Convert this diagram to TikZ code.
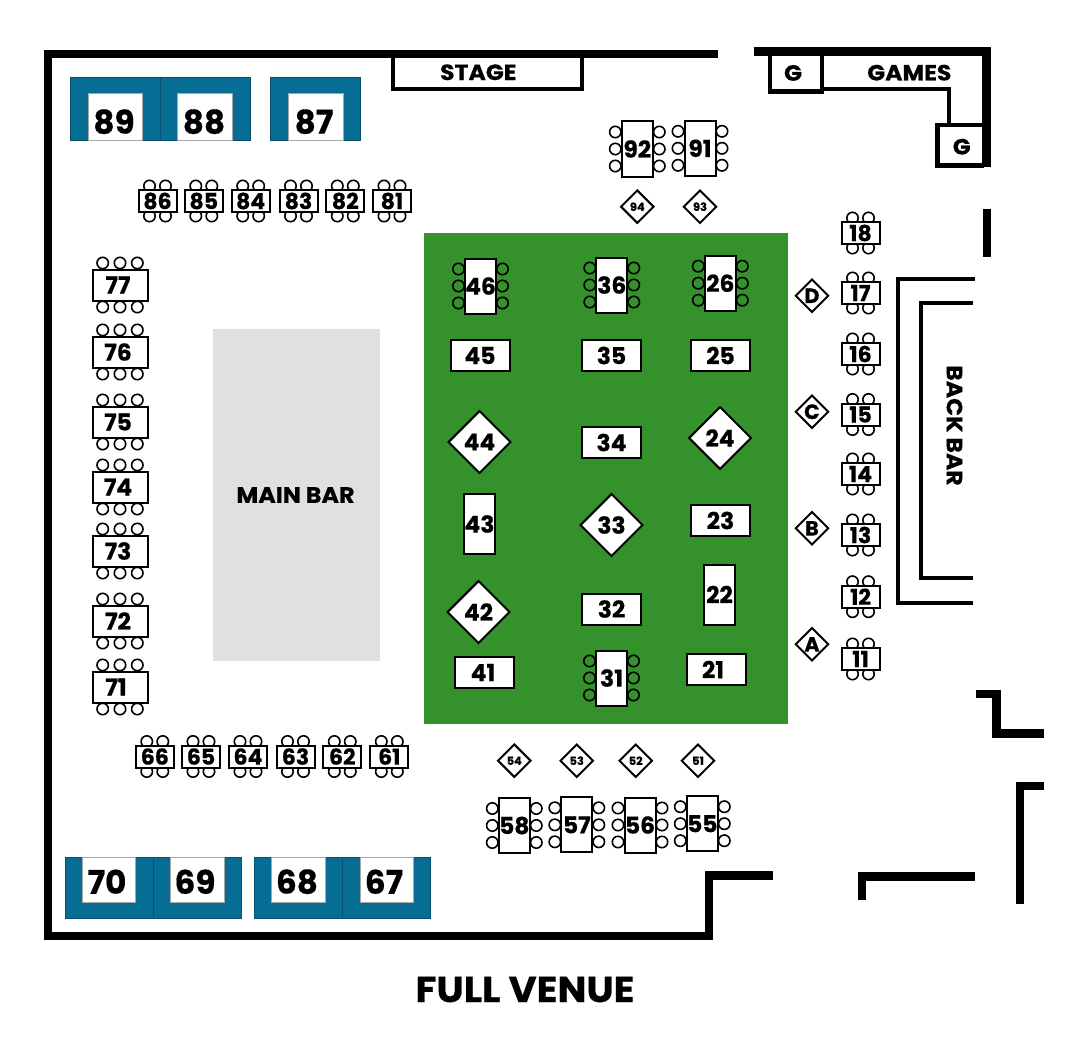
\documentclass[tikz,border=0pt]{standalone}
\usepackage{fontspec}
\setmainfont{Poppins}[BoldFeatures={FakeBold=0.5}]
\newfontfamily\signfont{Poppins}[BoldFeatures={FakeBold=0.5,FakeStretch=1.07}]
\usetikzlibrary{shapes.geometric}
\definecolor{lawn}{RGB}{53,145,43}
\definecolor{booth}{RGB}{6,110,149}
\definecolor{boothedge}{RGB}{10,80,110}
\definecolor{barfloor}{RGB}{224,224,224}
\tikzset{
  wall/.style={line width=6.3pt,miter limit=10},
  thinwall/.style={line width=3pt},
  seat/.style={line width=1.2pt},
  num/.style={font=\bfseries\fontsize{17.5}{17.5}\selectfont,inner sep=0pt},
  tbl/.style={draw,fill=white,line width=1.5pt,inner sep=0pt,font=\bfseries\fontsize{17.5}{17.5}\selectfont},
  tblsmall/.style={tbl,minimum width=28.5pt,minimum height=16.5pt,font=\bfseries\fontsize{16.5}{16.5}\selectfont},
  tblwide/.style={tbl,minimum width=41.25pt,minimum height=23.25pt},
  tbltall/.style={tbl,minimum width=23.25pt,minimum height=41.25pt},
  tblplain/.style={tbl,minimum width=44.25pt,minimum height=23.25pt},
  tblplainup/.style={tbl,minimum width=23.25pt,minimum height=45pt},
  dmd/.style={diamond,aspect=1,draw,fill=white,line width=1.5pt,inner sep=0pt},
  dmdbig/.style={dmd,minimum width=47pt,minimum height=47pt,font=\bfseries\fontsize{17.5}{17.5}\selectfont},
  dmdletter/.style={dmd,minimum width=25pt,minimum height=25pt,font=\bfseries\fontsize{15.5}{15.5}\selectfont},
  dmdsmall/.style={dmd,minimum width=25pt,minimum height=25pt,font=\bfseries\fontsize{8.5}{8.5}\selectfont},
  boothnum/.style={font=\bfseries\fontsize{24.5}{24.5}\selectfont,inner sep=0pt},
  sign/.style={font=\signfont\bfseries\fontsize{16.5}{16.5}\selectfont,inner sep=0pt},
}
% small table, two seats above and below
\newcommand{\tsmall}[3]{
  \foreach \s in {-8,8} {
    \draw[seat] (#1+\s,#2-15) circle(5.7);
    \draw[seat] (#1+\s,#2+15) circle(5.7);
  }
  \node[tblsmall] (t#3) at (#1,#2) {#3};
}
% upright table, three seats each side
\newcommand{\ttall}[3]{
  \foreach \s in {-17,0,17} {
    \draw[seat] (#1-22,#2+\s) circle(5.7);
    \draw[seat] (#1+22,#2+\s) circle(5.7);
  }
  \node[tbltall] (t#3) at (#1,#2) {#3};
}
% booth: left, right, top, bottom, then the white table
\newcommand{\boothbox}[8]{
  \fill[booth] (#1,#3) rectangle (#2,#4);
  \draw[boothedge,line width=0.5pt] (#1,#3) rectangle (#2,#4);
  \draw[fill=white,draw=gray!70,line width=0.6pt] (#5,#6) rectangle (#7,#8);
}
\begin{document}
\begin{tikzpicture}[x=0.75pt,y=-0.75pt]
  \useasboundingbox (0,0) rectangle (1080,1052);
  % floor
  \fill[lawn] (424,233) rectangle (788,724);
  \fill[barfloor] (213,329) rectangle (379.5,661);
  \node[sign,font=\signfont\bfseries\fontsize{16.7}{16.7}\selectfont] (mainbar) at (295.5,495) {MAIN BAR};
  % walls
  \draw[thinwall,line width=2.8pt] (392.7,54) -- (392.7,89) -- (581.7,89) -- (581.7,54);
  \draw[wall] (718.3,54) -- (48,54) -- (48,936) -- (709,936) -- (709,875.5) -- (773,875.5);
  \draw[wall] (754,51.5) -- (986.5,51.5) -- (986.5,167.3);
  \draw[wall] (986.7,209) -- (986.7,257.3);
  \draw[wall] (975.7,694) -- (996.6,694) -- (996.6,733.5) -- (1043.7,733.5);
  \draw[wall] (1043.7,786) -- (1019.7,786) -- (1019.7,903.7);
  \draw[wall] (861.7,899.7) -- (861.7,876.3) -- (974.7,876.3);
  % games
  \draw[thinwall,line width=3.4pt] (770,55) -- (770,91.7) -- (822,91.7) -- (822,55);
  \draw[thinwall,line width=2.8pt] (824,89) -- (949,89) -- (949,125);
  \draw[thinwall,line width=3.4pt] (984,125) -- (937.5,125) -- (937.5,165.7) -- (984,165.7);
  \node[sign] (stage) at (478.3,72.3) {STAGE};
  \node[sign] (games) at (909.3,72.7) {GAMES};
  \node[sign] (g1) at (793,73) {G};
  \node[sign] (g2) at (961.7,146.7) {G};
  % back bar
  \draw[thinwall] (974.7,279) -- (897.5,279) -- (897.5,602.5) -- (972.7,602.5);
  \draw[thinwall] (972.7,302.5) -- (921,302.5) -- (921,578) -- (972.7,578);
  \node[sign,rotate=-90] (backbar) at (954.5,425.5) {BACK BAR};
  % booths
  \boothbox{70}{160.5}{77}{140}{88.3}{93.3}{142.7}{140}
  \boothbox{160.5}{250.3}{77}{140}{177.7}{93.3}{232.3}{140}
  \boothbox{270.3}{360.7}{77}{140}{288.3}{93.3}{343}{140}
  \boothbox{65.3}{153.3}{857.3}{918.3}{82.3}{857.3}{135.7}{902.7}
  \boothbox{153.3}{241}{857.3}{918.3}{170.7}{857.3}{224}{902.7}
  \boothbox{254.3}{342.7}{857.3}{918.3}{271.7}{857.3}{325.3}{902.7}
  \boothbox{342.7}{430}{857.3}{918.3}{360}{857.3}{413}{902.7}
  \foreach \x/\y/\n in {114/121.7/89,204/121.7/88,314/121.7/87,107/881.7/70,195/881.7/69,297/881.7/68,384/881.7/67} {
    \node[boothnum] (b\n) at (\x,\y) {\n};
  }
  % rows of small tables
  \foreach \x/\n in {157.5/86,203.8/85,250.7/84,298.5/83,345.3/82,392/81} {
    \tsmall{\x}{201}{\n}
  }
  \foreach \x/\n in {154.8/66,201/65,248/64,295.5/63,342.3/62,389.3/61} {
    \tsmall{\x}{756.5}{\n}
  }
  \foreach \y/\n in {233/18,293/17,354/16,414.5/15,474/14,535/13,596.7/12,659/11} {
    \tsmall{860.5}{\y}{\n}
  }
  % left column
  \foreach \y/\n/\lx in {285/77/118,352/76/118,422/75/118,487/74/118,551/73/118,621/72/118,687/71/116} {
    \foreach \s in {-17.3,0,17.3} {
      \draw[seat] (120+\s,\y-22) circle(5.7);
      \draw[seat] (120+\s,\y+22) circle(5.7);
    }
    \node[tblwide] (t\n) at (120,\y) {};
    \node[num] (n\n) at (\lx,\y) {\n};
  }
  % upright tables
  \ttall{637.3}{149}{92}
  \ttall{700}{148.3}{91}
  \ttall{480.5}{286}{46}
  \ttall{611.8}{285}{36}
  \ttall{720.3}{283.2}{26}
  \ttall{611.5}{678}{31}
  \ttall{514.3}{825.5}{58}
  \ttall{576.8}{824.8}{57}
  \ttall{640}{825}{56}
  \ttall{702.3}{823.7}{55}
  % plain tables on the lawn
  \foreach \x/\y/\n in {480/355.5/45,611.5/355.5/35,720.5/355.5/25,611.5/442.5/34,720.5/520.5/23,611.5/609/32} {
    \node[tblplain] (t\n) at (\x,\y) {\n};
  }
  \node[tblplain] (t41) at (484.5,672.5) {};
  \node[num] (n41) at (483,672.5) {41};
  \node[tblplain] (t21) at (716.5,669.5) {};
  \node[num] (n21) at (713,669.5) {21};
  \node[tblplainup] (t43) at (479.5,524) {43};
  \node[tblplainup] (t22) at (719.5,594.5) {22};
  % diamonds
  \foreach \x/\y/\n in {479.5/442/44,720/438/24,611.5/525/33,478.5/612/42} {
    \node[dmdbig] (d\n) at (\x,\y) {\n};
  }
  \foreach \y/\n in {295.7/D,411.7/C,528.3/B,644.3/A} {
    \node[dmdletter] (d\n) at (812,\y) {\n};
  }
  \foreach \x/\y/\n in {637.3/206.7/94,700/206.7/93,514.3/760.7/54,576.7/760.7/53,635.7/760.7/52,698/760.7/51} {
    \node[dmdsmall] (d\n) at (\x,\y) {\n};
  }
  \node[font=\signfont\bfseries\fontsize{27}{27}\selectfont,inner sep=0pt] (title) at (525,989.5) {FULL VENUE};
\end{tikzpicture}
\end{document}
